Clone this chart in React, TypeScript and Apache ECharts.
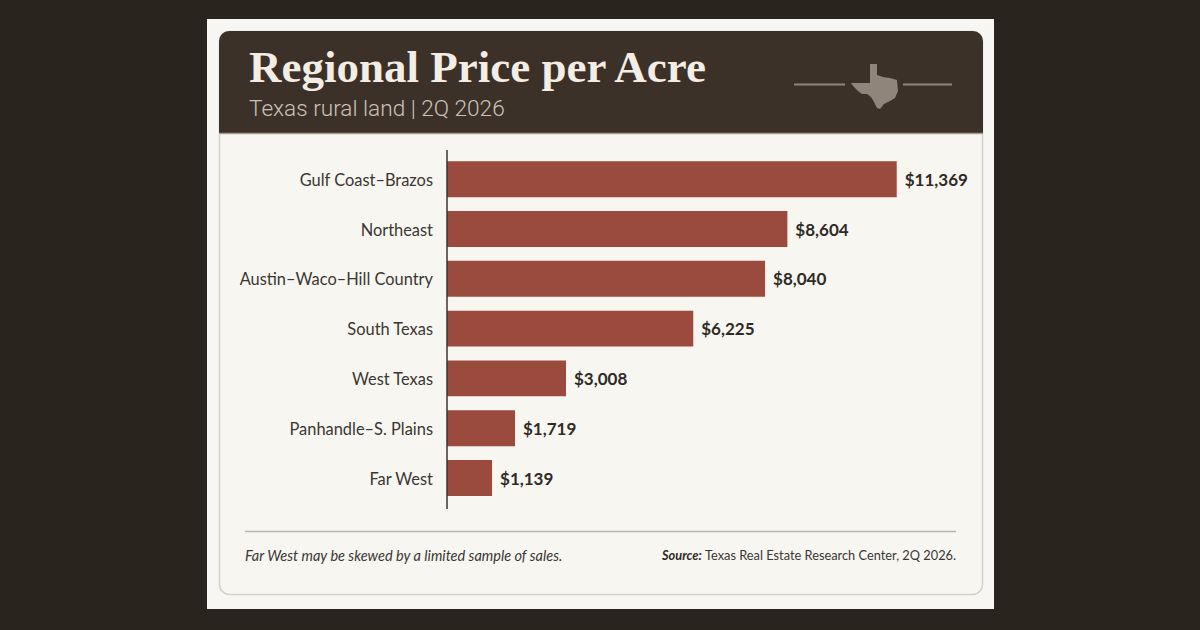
import React, { useEffect, useRef } from "react";
import * as echarts from "echarts";

const categories = [
  "Gulf Coast–Brazos",
  "Northeast",
  "Austin–Waco–Hill Country",
  "South Texas",
  "West Texas",
  "Panhandle–S. Plains",
  "Far West",
];
const pricePerAcre = [11369, 8604, 8040, 6225, 3008, 1719, 1139];

const titleText = "Regional Price per Acre";
const subtitleText = "Texas rural land | 2Q 2026";
const noteText = "Far West may be skewed by a limited sample of sales.";
const sourceLabel = "Source:";
const sourceText = " Texas Real Estate Research Center, 2Q 2026.";

const texasPath =
  "M20 0 L27 0 L27 11 L33 13 L40 14 L47 16 L48 27 L45 34 L40 37 L34 40 L30 45 L27 44 L24 38 L21 33 L17 30 L12 30 L8 27 L4 23 L1 19 L20 19 Z";

echarts.graphic.registerShape("texas", echarts.graphic.extendPath(texasPath, {}));

const fmt = (v: number) => "$" + v.toLocaleString("en-US");

export default function App() {
  const ref = useRef<HTMLDivElement>(null);
  useEffect(() => {
    document.body.style.margin = "0";
    const chart = echarts.init(ref.current!, null, { renderer: "svg" });
    const sans = "Lato";
    chart.setOption({
      animation: false,
      backgroundColor: "#2a241f",
      grid: { left: 447, top: 154.3, bottom: 127.1, right: 278.3, containLabel: false },
      xAxis: {
        type: "value",
        min: 0,
        max: 12000,
        show: false,
      },
      yAxis: {
        type: "category",
        inverse: true,
        data: categories,
        axisLine: { show: false },
        axisTick: { show: false },
        splitLine: { show: false },
        axisLabel: {
          margin: 14,
          fontFamily: sans,
          fontSize: 16.4,
          color: "#3a3631",
        },
      },
      series: [
        {
          type: "bar",
          data: pricePerAcre,
          barCategoryGap: "28%",
          itemStyle: { color: "#9b4a3e" },
          z: 5,
          label: {
            show: true,
            position: "right",
            distance: 8,
            formatter: (p: any) => fmt(p.value),
            fontFamily: sans,
            fontWeight: "bold",
            fontSize: 17,
            color: "#2e2a26",
          },
        },
      ],
      graphic: [
        { type: "rect", z: 0, shape: { x: 207, y: 19, width: 787, height: 590 }, style: { fill: "#f8f6f2" } },
        {
          type: "rect",
          z: 0,
          shape: { x: 219.5, y: 31.5, width: 763, height: 563, r: 10 },
          style: { fill: "#f8f6f1", stroke: "#d5d0c8", lineWidth: 1.5 },
        },
        {
          type: "rect",
          z: 1,
          shape: { x: 219, y: 31, width: 764, height: 102, r: [10, 10, 0, 0] },
          style: { fill: "#3b3129" },
        },
        {
          type: "line",
          z: 1,
          shape: { x1: 219, y1: 133.5, x2: 983, y2: 133.5 },
          style: { stroke: "#a89c8e", lineWidth: 1.5 },
        },
        {
          type: "text",
          z: 2,
          x: 249,
          y: 67,
          style: {
            text: titleText,
            fontFamily: "Liberation Serif",
            fontWeight: "bold",
            fontSize: 45,
            fill: "#f3ede3",
            verticalAlign: "middle",
          },
        },
        {
          type: "text",
          z: 2,
          x: 249,
          y: 108,
          style: {
            text: subtitleText,
            fontFamily: "Roboto",
            fontWeight: 300,
            fontSize: 22.6,
            fill: "#cbc3b8",
            verticalAlign: "middle",
          },
        },
        {
          type: "line",
          z: 2,
          shape: { x1: 794, y1: 84.5, x2: 845, y2: 84.5 },
          style: { stroke: "#8f857a", lineWidth: 2 },
        },
        {
          type: "line",
          z: 2,
          shape: { x1: 903, y1: 84.5, x2: 952, y2: 84.5 },
          style: { stroke: "#8f857a", lineWidth: 2 },
        },
        {
          type: "texas",
          z: 2,
          x: 850,
          y: 64,
          scaleX: 1,
          scaleY: 1,
          style: { fill: "#8f857a" },
        },
        {
          type: "line",
          z: 6,
          shape: { x1: 447, y1: 150, x2: 447, y2: 509 },
          style: { stroke: "#3a3530", lineWidth: 1.5 },
        },
        {
          type: "line",
          z: 2,
          shape: { x1: 245, y1: 531.5, x2: 956, y2: 531.5 },
          style: { stroke: "#b9b4ac", lineWidth: 1.5 },
        },
        {
          type: "text",
          z: 2,
          x: 245,
          y: 555,
          style: {
            text: noteText,
            fontFamily: sans,
            fontStyle: "italic",
            fontSize: 14.5,
            fill: "#3a3733",
            verticalAlign: "middle",
          },
        },
        {
          type: "text",
          z: 2,
          x: 956,
          y: 555,
          style: {
            text: "{b|" + sourceLabel + "}{r|" + sourceText + "}",
            align: "right",
            verticalAlign: "middle",
            rich: {
              b: { fontFamily: sans, fontStyle: "italic", fontWeight: "bold", fontSize: 12.8, fill: "#2e2b27" },
              r: { fontFamily: sans, fontSize: 12.8, fill: "#3a3733" },
            },
          },
        },
      ],
    });
    return () => chart.dispose();
  }, []);
  return <div ref={ref} style={{ position: "absolute", left: 0, top: 0, width: 1200, height: 630 }} />;
}
